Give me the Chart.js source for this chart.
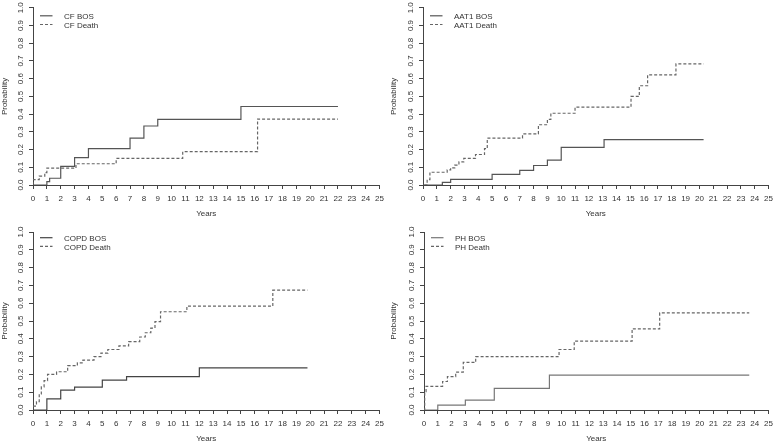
<!DOCTYPE html>
<html>
<head>
<meta charset="utf-8">
<script src="https://cdn.jsdelivr.net/npm/chart.js@4.4.1/dist/chart.umd.min.js"></script>
<style>
  html, body { margin: 0; padding: 0; background: #fff; }
  #wrap { position: relative; width: 778px; height: 444px; overflow: hidden; }
  #wrap canvas { position: absolute; }
</style>
</head>
<body>
<div id="wrap">
  <canvas id="cf"   width="389" height="222" style="left:0;top:0"></canvas>
  <canvas id="aat1" width="389" height="222" style="left:389px;top:0"></canvas>
  <canvas id="copd" width="389" height="222" style="left:0;top:222px"></canvas>
  <canvas id="ph"   width="389" height="222" style="left:389px;top:222px"></canvas>
</div>
<script>
// ---- axis ticks ----
const xTicks = Array.from({ length: 26 }, (_, i) => i);          // 0..25 years
const yTicks = [0, 0.1, 0.2, 0.3, 0.4, 0.5, 0.6, 0.7, 0.8, 0.9, 1.0];
const yTickLabels = ['0.0', '0.1', '0.2', '0.3', '0.4', '0.5', '0.6', '0.7', '0.8', '0.9', '1.0'];

// ---- CF ----
const cfBosYears    = [0, 1, 1.2, 2, 3, 4, 7, 8, 9, 15, 22];
const cfBosProb     = [0, 0.019, 0.038, 0.105, 0.155, 0.205, 0.265, 0.333, 0.37, 0.443, 0.443];
const cfDeathYears  = [0, 0, 0.45, 0.85, 1, 3.1, 6, 10.8, 16.2, 22];
const cfDeathProb   = [0, 0.03, 0.05, 0.07, 0.095, 0.12, 0.15, 0.188, 0.372, 0.372];

// ---- AAT1 ----
const aatBosYears   = [0, 1.4, 2, 5, 7, 8, 9, 10, 13.1, 20.3];
const aatBosProb    = [0, 0.015, 0.032, 0.06, 0.082, 0.11, 0.14, 0.212, 0.256, 0.256];
const aatDeathYears = [0.1, 0.3, 0.5, 1.75, 2.0, 2.3, 2.6, 2.95, 3.8, 4.45, 4.65, 7.2, 8.35, 9.0, 9.25, 11, 15.05, 15.65, 16.25, 18.3, 20.3];
const aatDeathProb  = [0, 0.03, 0.072, 0.085, 0.097, 0.112, 0.13, 0.15, 0.172, 0.205, 0.265, 0.288, 0.34, 0.37, 0.405, 0.44, 0.5, 0.56, 0.622, 0.683, 0.683];

// ---- COPD ----
const copdBosYears   = [0, 1, 2, 3, 5, 6.75, 12, 19.8];
const copdBosProb    = [0, 0.062, 0.112, 0.128, 0.168, 0.188, 0.237, 0.237];
const copdDeathYears = [0, 0.25, 0.45, 0.6, 0.8, 1.05, 1.7, 2.5, 3.2, 3.6, 4.4, 4.9, 5.4, 6.2, 6.9, 7.7, 8.1, 8.5, 8.8, 9.2, 11.1, 17.3, 19.8];
const copdDeathProb  = [0.022, 0.047, 0.09, 0.13, 0.165, 0.2, 0.215, 0.249, 0.265, 0.28, 0.3, 0.32, 0.34, 0.36, 0.384, 0.41, 0.434, 0.46, 0.496, 0.552, 0.584, 0.673, 0.673];

// ---- PH ----
const phBosYears   = [0, 1, 3, 5.1, 9.1, 23.6];
const phBosProb    = [0, 0.027, 0.056, 0.121, 0.196, 0.196];
const phDeathYears = [0, 0.05, 0.15, 1.35, 1.7, 2.3, 2.85, 3.75, 9.8, 10.9, 15.1, 17.1, 23.6];
const phDeathProb  = [0, 0.103, 0.133, 0.16, 0.188, 0.213, 0.267, 0.3, 0.34, 0.387, 0.456, 0.546, 0.546];

const FONT = '"Liberation Sans", Arial, sans-serif';
const TEXT = '#333';
const AXIS = '#444';

const pts = (xs, ys) => xs.map((x, i) => ({ x, y: ys[i] }));

// y tick labels (rotated, R style) + legend inside the plot, top-left
const rPlot = {
  id: 'rPlot',
  afterDraw(chart, args, o) {
    const { ctx, chartArea: a } = chart;
    const y = chart.scales.y;
    ctx.save();
    ctx.fillStyle = TEXT;
    ctx.font = `8px ${FONT}`;
    ctx.textAlign = 'center';
    ctx.textBaseline = 'middle';
    yTicks.forEach((v, i) => {
      ctx.save();
      ctx.translate(a.left - 12.5, y.getPixelForValue(v));
      ctx.rotate(-Math.PI / 2);
      ctx.fillText(yTickLabels[i], 0, 0);
      ctx.restore();
    });
    ctx.textAlign = 'left';
    chart.data.datasets.forEach((ds, i) => {
      const ly = a.top + o.legTop + i * 8.7;
      ctx.strokeStyle = ds.borderColor;
      ctx.lineWidth = ds.borderWidth;
      ctx.setLineDash(ds.borderDash || []);
      ctx.beginPath(); ctx.moveTo(a.left + 7, ly); ctx.lineTo(a.left + 19.5, ly); ctx.stroke();
      ctx.fillText(ds.label, a.left + 31, ly + 1.2);
    });
    ctx.restore();
  }
};

function km(id, name, bos, death, p) {
  new Chart(document.getElementById(id).getContext('2d'), {
    type: 'line',
    data: {
      datasets: [
        { label: name + ' BOS',   data: bos,   borderColor: p.solid || '#555', borderWidth: 1.2, stepped: true, pointRadius: 0, fill: false },
        { label: name + ' Death', data: death, borderColor: '#666', borderWidth: 1.2, borderDash: [3, 2], stepped: true, pointRadius: 0, fill: false }
      ]
    },
    options: {
      responsive: false,
      animation: false,
      layout: { padding: { top: p.top, right: p.right, left: 0, bottom: 0 } },
      plugins: { legend: { display: false }, tooltip: { enabled: false }, rPlot: { legTop: p.legTop } },
      scales: {
        x: {
          type: 'linear', min: 0, max: 25,
          afterFit: s => { s.height = p.xh; },
          afterBuildTicks: s => { s.ticks = xTicks.map(v => ({ value: v })); },
          ticks: { autoSkip: false, maxRotation: 0, color: TEXT, font: { family: FONT, size: 8 }, padding: 5 },
          grid: { drawOnChartArea: false, drawTicks: true, tickLength: 4, color: AXIS },
          border: { display: true, color: AXIS, width: 1 },
          title: { display: true, text: 'Years', color: TEXT, font: { family: FONT, size: 8 }, padding: { top: 0, bottom: p.titlePad } }
        },
        y: {
          type: 'linear', min: 0, max: 1,
          afterFit: s => { s.width = p.yw; },
          afterBuildTicks: s => { s.ticks = yTicks.map(v => ({ value: v })); },
          ticks: { color: 'rgba(0,0,0,0)', font: { family: FONT, size: 8 } },
          grid: { drawOnChartArea: false, drawTicks: true, tickLength: 4, color: AXIS },
          border: { display: true, color: AXIS, width: 1 },
          title: { display: true, text: 'Probability', color: TEXT, font: { family: FONT, size: 8 }, padding: { top: 0, bottom: 0 } }
        }
      }
    },
    plugins: [rPlot]
  });
}

km('cf',   'CF',   pts(cfBosYears, cfBosProb),     pts(cfDeathYears, cfDeathProb),     { yw: 33, xh: 37, top: 6,  right: 7, legTop: 8,   titlePad: 3 });
km('aat1', 'AAT1', pts(aatBosYears, aatBosProb),   pts(aatDeathYears, aatDeathProb),   { yw: 34, xh: 37, top: 6,  right: 8, legTop: 8,   titlePad: 3 });
km('copd', 'COPD', pts(copdBosYears, copdBosProb), pts(copdDeathYears, copdDeathProb), { yw: 33, xh: 34, top: 10, right: 8, legTop: 5.7, titlePad: 0, solid: '#444' });
km('ph',   'PH',   pts(phBosYears, phBosProb),     pts(phDeathYears, phDeathProb),     { yw: 35, xh: 34, top: 10, right: 7, legTop: 5.7, titlePad: 0, solid: '#777' });
</script>
</body>
</html>
